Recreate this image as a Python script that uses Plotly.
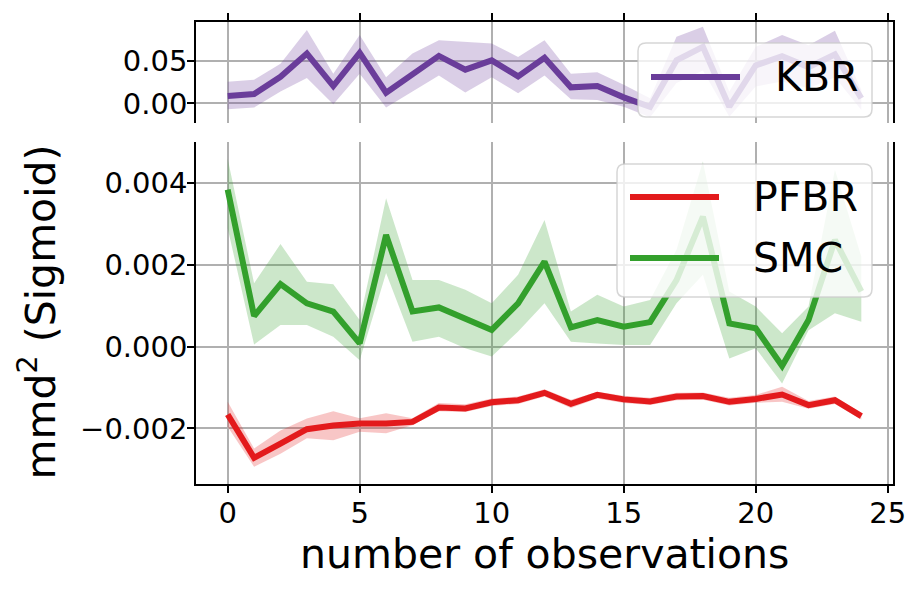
import plotly.graph_objects as go

# ---------------- data ----------------
x_obs = list(range(25))

kbr_mean = [0.0087, 0.011, 0.0315, 0.059, 0.0205, 0.060, 0.0126, 0.0354, 0.0563, 0.040,
            0.051, 0.032, 0.054, 0.019, 0.0205, 0.0071, -0.004, 0.051, 0.067, -0.004,
            0.045, 0.056, 0.043, 0.058, 0.006]
kbr_upper = [0.0256, 0.028, 0.047, 0.087, 0.035, 0.081, 0.031, 0.059, 0.075, 0.073,
             0.071, 0.055, 0.075, 0.035, 0.037, 0.022, 0.006, 0.079, 0.091, 0.014,
             0.067, 0.081, 0.069, 0.086, 0.016]
kbr_lower = [-0.007, -0.005, 0.014, 0.030, -0.001, 0.035, -0.005, 0.014, 0.033, 0.013,
             0.031, 0.012, 0.033, 0.005, 0.004, -0.004, -0.0165, 0.024, 0.039, -0.016,
             0.020, 0.026, 0.018, 0.031, -0.008]

smc_mean = [0.00384, 0.00075, 0.00153, 0.00106, 0.00086, 0.00008, 0.00273, 0.00086, 0.00096, 0.00068,
            0.00041, 0.00106, 0.00208, 0.00047, 0.00065, 0.00049, 0.00060, 0.00163, 0.00318, 0.00057,
            0.00045, -0.00047, 0.00065, 0.00261, 0.00135]
smc_upper = [0.0046, 0.00155, 0.00251, 0.00159, 0.00153, 0.00065, 0.00363, 0.00163, 0.00163, 0.00139,
             0.00106, 0.00176, 0.0031, 0.00086, 0.00127, 0.00098, 0.00114, 0.00237, 0.00453, 0.00135,
             0.00098, 0.00033, 0.00098, 0.00433, 0.0022]
smc_lower = [0.0029, 0.00005, 0.00053, 0.00053, 0.00024, -0.00033, 0.0018, 0.00012, 0.00024, -0.00004,
             -0.00024, 0.00037, 0.00106, 0.00012, 0.00008, 0.00004, 0.00004, 0.00106, 0.00176, -0.00029,
             -0.00004, -0.0009, 0.0004, 0.00082, 0.00061]

pfbr_mean = [-0.00166, -0.00272, -0.00237, -0.00202, -0.00193, -0.00188, -0.00188, -0.00184, -0.00149, -0.00151,
             -0.00136, -0.00131, -0.00113, -0.00140, -0.00118, -0.00129, -0.00134, -0.00122, -0.00121, -0.00135,
             -0.00128, -0.00117, -0.00143, -0.00131, -0.00170]
pfbr_upper = [-0.00135, -0.00249, -0.00205, -0.00176, -0.00158, -0.00175, -0.00163, -0.00175, -0.00138, -0.00141,
              -0.00127, -0.00122, -0.00104, -0.00130, -0.00110, -0.00120, -0.00125, -0.00113, -0.00112, -0.00125,
              -0.00118, -0.00098, -0.00133, -0.00122, -0.00162]
pfbr_lower = [-0.00196, -0.00294, -0.00262, -0.00224, -0.00229, -0.00208, -0.00212, -0.00192, -0.00158, -0.00160,
              -0.00145, -0.00140, -0.00122, -0.00150, -0.00127, -0.00138, -0.00143, -0.00131, -0.00130, -0.00144,
              -0.00137, -0.00135, -0.00152, -0.00140, -0.00178]

x_ticks = [0, 5, 10, 15, 20, 25]
top_yticks = [0.0, 0.05]
top_yticklabels = ["0.00", "0.05"]
bot_yticks = [-0.002, 0.0, 0.002, 0.004]
bot_yticklabels = ["\u22120.002", "0.000", "0.002", "0.004"]

# ---------------- style ----------------
C_KBR = "#6a3d9a"
C_PFBR = "#e31a1c"
C_SMC = "#33a02c"


def rgba(hexc, a):
    h = hexc.lstrip("#")
    return "rgba(%d,%d,%d,%s)" % (int(h[0:2], 16), int(h[2:4], 16), int(h[4:6], 16), a)


FONT = "DejaVu Sans"
W, H = 922, 591
L, R, T, B = 196, 893, 22, 484
PW, PH = R - L, B - T


def px(x):
    return (x - L) / PW


def py(y):
    return (B - y) / PH


top_dom = [py(123), 1.0]
bot_dom = [0.0, py(142.3)]

fig = go.Figure()

LW = 6


def band(x, lo, hi, mean, color, name, xa, ya):
    fig.add_trace(go.Scatter(x=x, y=lo, mode="lines", line=dict(width=0), hoverinfo="skip",
                             showlegend=False, xaxis=xa, yaxis=ya))
    fig.add_trace(go.Scatter(x=x, y=hi, mode="lines", line=dict(width=0), fill="tonexty",
                             fillcolor=rgba(color, 0.25), hoverinfo="skip", showlegend=False,
                             xaxis=xa, yaxis=ya))
    fig.add_trace(go.Scatter(x=x, y=mean, mode="lines", line=dict(color=color, width=LW),
                             name=name, showlegend=False, xaxis=xa, yaxis=ya))


band(x_obs, kbr_lower, kbr_upper, kbr_mean, C_KBR, "KBR", "x2", "y2")
band(x_obs, pfbr_lower, pfbr_upper, pfbr_mean, C_PFBR, "PFBR", "x", "y")
band(x_obs, smc_lower, smc_upper, smc_mean, C_SMC, "SMC", "x", "y")

grid = "#b0b0b0"
axis_common = dict(showgrid=True, gridcolor=grid, gridwidth=1.5, zeroline=False,
                   linecolor="black", linewidth=1.5, ticks="outside", ticklen=7, tickwidth=1.5,
                   tickcolor="black", tickfont=dict(family=FONT, size=29, color="black"))

fig.update_layout(
    width=W, height=H,
    margin=dict(l=L, r=W - R, t=T, b=H - B),
    paper_bgcolor="white", plot_bgcolor="white",
    showlegend=False,
    xaxis=dict(domain=[0, 1], range=[-1.2, 25.2], tickvals=x_ticks, showline=True, mirror=False,
               anchor="y", ticklabelstandoff=-5, **axis_common),
    yaxis=dict(domain=bot_dom, range=[-0.00336, 0.005], tickvals=bot_yticks, ticktext=bot_yticklabels,
               showline=True, mirror=True, anchor="x", ticklabelstandoff=-6, **axis_common),
    xaxis2=dict(domain=[0, 1], range=[-1.2, 25.2], tickvals=x_ticks, showline=True, mirror=False,
                side="top", showticklabels=False, anchor="y2", matches="x", **axis_common),
    yaxis2=dict(domain=top_dom, range=[-0.0233, 0.0965], tickvals=top_yticks, ticktext=top_yticklabels,
                showline=True, mirror=True, anchor="x2", ticklabelstandoff=-6, **axis_common),
)

shapes = []
annotations = []


def legend_box(x0, y0, x1, y1, r=8):
    # rounded rectangle in paper coords
    rx, ry = r / PW, r / PH
    X0, X1 = px(x0), px(x1)
    Y0, Y1 = py(y1), py(y0)  # bottom, top in paper coords
    path = (f"M {X0+rx},{Y0} L {X1-rx},{Y0} Q {X1},{Y0} {X1},{Y0+ry} "
            f"L {X1},{Y1-ry} Q {X1},{Y1} {X1-rx},{Y1} L {X0+rx},{Y1} "
            f"Q {X0},{Y1} {X0},{Y1-ry} L {X0},{Y0+ry} Q {X0},{Y0} {X0+rx},{Y0} Z")
    shapes.append(dict(type="path", path=path, xref="paper", yref="paper",
                       fillcolor="rgba(255,255,255,0.8)", line=dict(color="rgba(204,204,204,0.8)", width=1.5),
                       layer="above"))


def legend_entry(xl0, xl1, y, color, text, xt):
    shapes.append(dict(type="line", xref="paper", yref="paper", x0=px(xl0), x1=px(xl1),
                       y0=py(y), y1=py(y), line=dict(color=color, width=LW), layer="above"))
    annotations.append(dict(text=text, xref="paper", yref="paper", x=px(xt), y=py(y),
                            xanchor="left", yanchor="middle", showarrow=False,
                            font=dict(family=FONT, size=41, color="black")))


legend_box(638, 43, 872, 117)
legend_entry(651, 740, 77, C_KBR, "KBR", 773)

legend_box(617, 164, 872, 297)
legend_entry(630, 719, 197, C_PFBR, "PFBR", 751)
legend_entry(630, 719, 258, C_SMC, "SMC", 751)

annotations.append(dict(text="number of observations", xref="paper", yref="paper",
                        x=px(544.5), y=py(554), xanchor="center", yanchor="middle", showarrow=False,
                        font=dict(family=FONT, size=41, color="black")))
annotations.append(dict(text="mmd<sup>2</sup> (Sigmoid)", xref="paper", yref="paper",
                        x=px(37), y=py(312.5), xanchor="center", yanchor="middle", showarrow=False,
                        textangle=-90, font=dict(family=FONT, size=41, color="black")))

fig.update_layout(shapes=shapes, annotations=annotations)

fig.write_html("out.html")
